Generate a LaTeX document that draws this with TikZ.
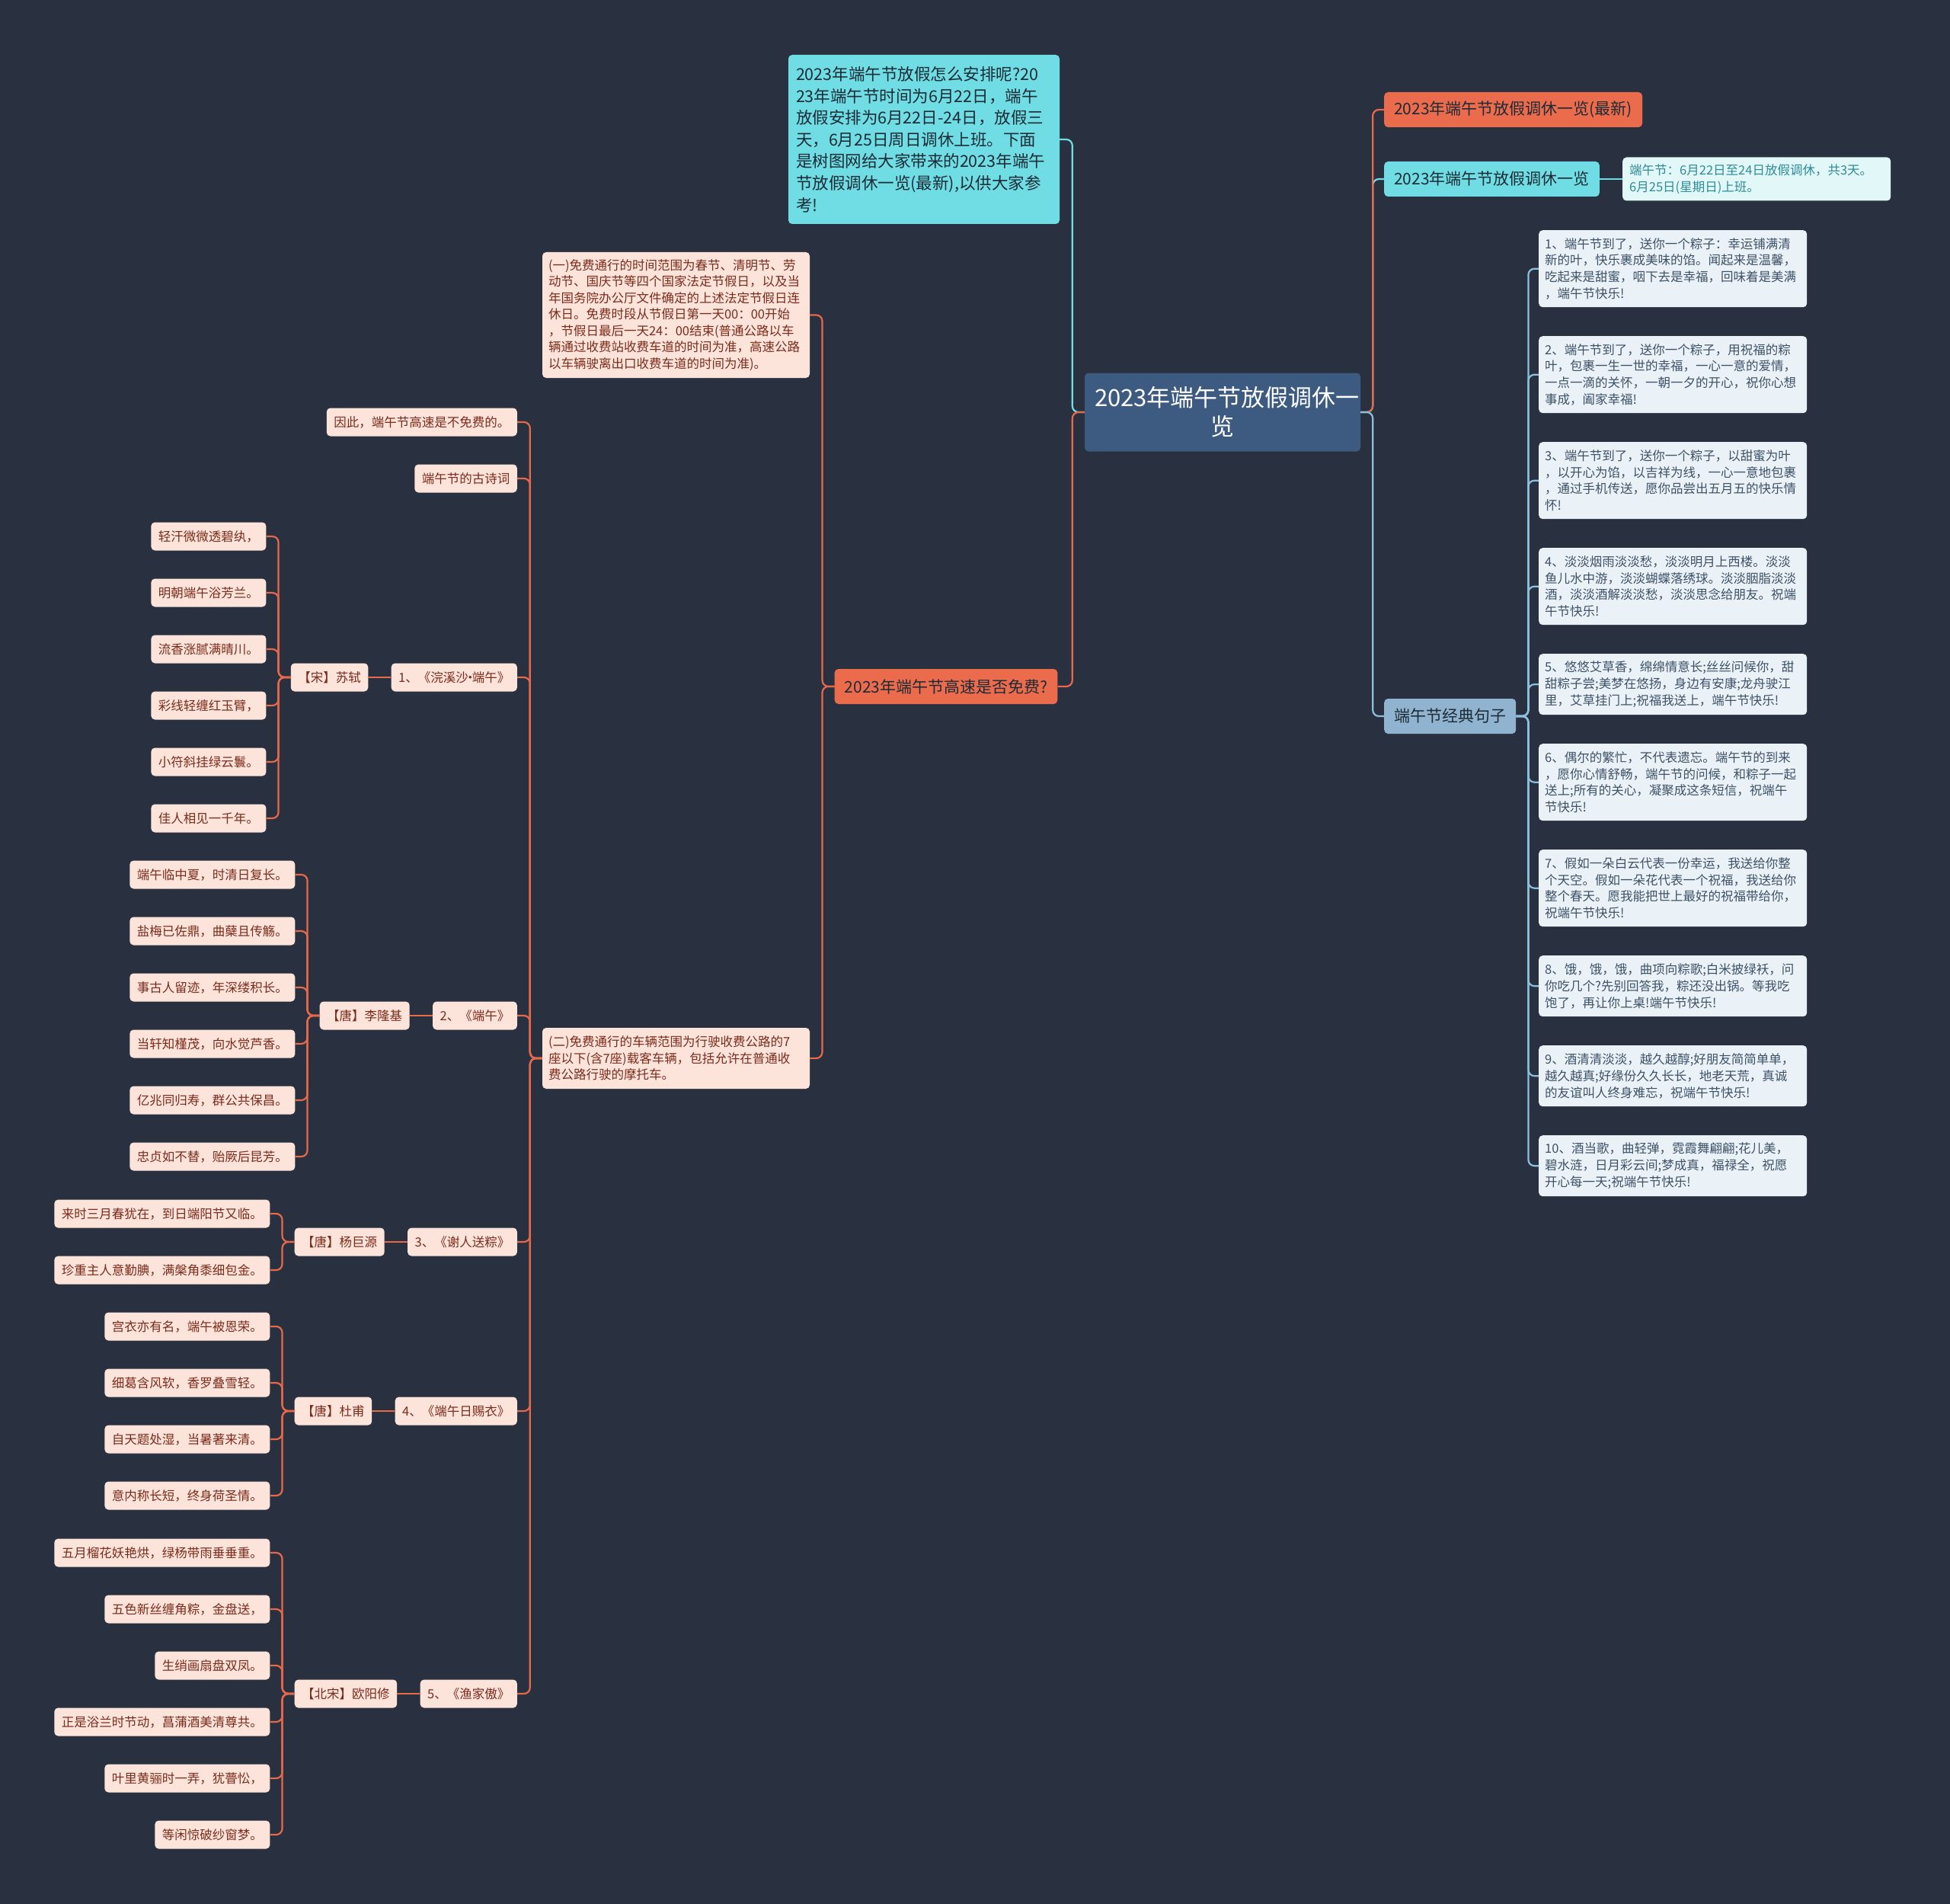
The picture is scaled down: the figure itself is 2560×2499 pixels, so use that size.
\documentclass[tikz,border=0pt]{standalone}
\usepackage{fontspec}
\setmainfont{Noto Sans CJK SC}
\usetikzlibrary{positioning,calc}

\definecolor{bgnavy}{HTML}{293140}
\definecolor{rootblue}{HTML}{3D5A80}
\definecolor{orangefill}{HTML}{EB6B4D}
\definecolor{orangeline}{HTML}{E8694A}
\definecolor{cyanfill}{HTML}{6FDDE3}
\definecolor{bluefill}{HTML}{90B4CF}
\definecolor{blueline}{HTML}{8CC0DC}
\definecolor{pinkfill}{HTML}{FCE4DA}
\definecolor{pinktext}{HTML}{7B2B1C}
\definecolor{sentfill}{HTML}{EAF2F8}
\definecolor{senttext}{HTML}{3E5166}
\definecolor{notefill}{HTML}{E2F7F8}
\definecolor{notetext}{HTML}{2E8C97}
\definecolor{darktext}{HTML}{1D2B36}

\tikzset{
    box/.style={rounded corners=5pt, inner xsep=9pt, inner ysep=4pt},
    rootbox/.style={box, fill=rootblue, text=white, align=center,
        font=\fontsize{31}{38}\selectfont, text width=336pt, inner xsep=13pt,
        minimum height=103pt},
    intro/.style={box, fill=cyanfill, text=darktext, align=left,
        font=\fontsize{21.5}{28.6}\selectfont, text width=336pt, inner xsep=10pt,
        minimum height=222pt},
    branch/.style={box, text=darktext, font=\fontsize{21}{25}\selectfont,
        inner xsep=13pt, minimum height=46pt},
    orangebox/.style={branch, fill=orangefill},
    cyanbox/.style={branch, fill=cyanfill},
    bluebox/.style={branch, fill=bluefill},
    notebox/.style={box, fill=notefill, text=notetext, align=left,
        font=\fontsize{16.5}{21.5}\selectfont, text width=334pt, minimum height=57pt},
    pinkpara/.style={box, fill=pinkfill, text=pinktext, align=left,
        font=\fontsize{16.5}{21.5}\selectfont, text width=335pt, inner xsep=8pt},
    tip/.style={box, fill=pinkfill, text=pinktext,
        font=\fontsize{16.5}{20}\selectfont, inner xsep=9.5pt, minimum height=37pt},
    sentence/.style={box, fill=sentfill, text=senttext, align=left,
        font=\fontsize{16.5}{21.8}\selectfont, text width=336pt, inner xsep=8pt},
    four/.style={sentence, minimum height=101pt},
    three/.style={sentence, minimum height=80pt},
    link/.style={line width=2.2pt, rounded corners=8pt},
    redlink/.style={link, draw=orangeline},
    cyanlink/.style={link, draw=cyanfill},
    bluelink/.style={link, draw=blueline},
    elbowl/.style={rounded corners=8pt, to path={-- ++(-16,0) |- (\tikztotarget)}},
    elbowr/.style={rounded corners=8pt, to path={-- ++(16,0) |- (\tikztotarget)}}
}
\newcommand{\middot}{\makebox[0.3em]{·}}

\begin{document}
\begin{tikzpicture}[x=1pt, y=-1pt]
\fill[bgnavy] (0,0) rectangle (2560,2499);
\useasboundingbox (0,0) rectangle (2560,2499);

% centre
\node[rootbox] (root) at (1605,541) {2023年端午节放假调休一\\览};

% left side
\node[intro] (intro) at (1213,183) {2023年端午节放假怎么安排呢?20\\23年端午节时间为6月22日，端午\\放假安排为6月22日-24日，放假三\\天，6月25日周日调休上班。下面\\是树图网给大家带来的2023年端午\\节放假调休一览(最新),以供大家参\\考!};
\node[orangebox] (free) at (1242,901) {2023年端午节高速是否免费?};
\node[pinkpara, minimum height=165pt] (one) at (887.5,413.5) {(一)免费通行的时间范围为春节、清明节、劳\\动节、国庆节等四个国家法定节假日，以及当\\年国务院办公厅文件确定的上述法定节假日连\\休日。免费时段从节假日第一天00：00开始\\，节假日最后一天24：00结束(普通公路以车\\辆通过收费站收费车道的时间为准，高速公路\\以车辆驶离出口收费车道的时间为准)。};
\node[pinkpara, minimum height=80pt] (two) at (887.5,1389) {(二)免费通行的车辆范围为行驶收费公路的7\\座以下(含7座)载客车辆，包括允许在普通收\\费公路行驶的摩托车。};

\node[tip, anchor=east] (t0) at (679,554) {因此，端午节高速是不免费的。};
\node[tip, anchor=east] (t1) at (679,628) {端午节的古诗词};
\node[tip, anchor=east] (t2) at (679,889) {1、《浣溪沙\middot 端午》};
\node[tip, anchor=east] (t3) at (679,1333) {2、《端午》};
\node[tip, anchor=east] (t4) at (679,1630) {3、《谢人送粽》};
\node[tip, anchor=east] (t5) at (679,1852) {4、《端午日赐衣》};
\node[tip, anchor=east] (t6) at (679,2223) {5、《渔家傲》};

\node[tip, left=30pt of t2] (a1) {【宋】苏轼};
\node[tip, left=30pt of t3] (a2) {【唐】李隆基};
\node[tip, left=30pt of t4] (a3) {【唐】杨巨源};
\node[tip, left=30pt of t5] (a4) {【唐】杜甫};
\node[tip, left=30pt of t6] (a5) {【北宋】欧阳修};

% poem lines
\node[tip, anchor=east] (p1a) at ($(a1.west)+(-32,-185)$) {轻汗微微透碧纨，};
\node[tip, anchor=east] (p1b) at ($(a1.west)+(-32,-111)$) {明朝端午浴芳兰。};
\node[tip, anchor=east] (p1c) at ($(a1.west)+(-32,-37)$) {流香涨腻满晴川。};
\node[tip, anchor=east] (p1d) at ($(a1.west)+(-32,37)$) {彩线轻缠红玉臂，};
\node[tip, anchor=east] (p1e) at ($(a1.west)+(-32,111)$) {小符斜挂绿云鬟。};
\node[tip, anchor=east] (p1f) at ($(a1.west)+(-32,185)$) {佳人相见一千年。};

\node[tip, anchor=east] (p2a) at ($(a2.west)+(-32,-185)$) {端午临中夏，时清日复长。};
\node[tip, anchor=east] (p2b) at ($(a2.west)+(-32,-111)$) {盐梅已佐鼎，曲蘖且传觞。};
\node[tip, anchor=east] (p2c) at ($(a2.west)+(-32,-37)$) {事古人留迹，年深缕积长。};
\node[tip, anchor=east] (p2d) at ($(a2.west)+(-32,37)$) {当轩知槿茂，向水觉芦香。};
\node[tip, anchor=east] (p2e) at ($(a2.west)+(-32,111)$) {亿兆同归寿，群公共保昌。};
\node[tip, anchor=east] (p2f) at ($(a2.west)+(-32,185)$) {忠贞如不替，贻厥后昆芳。};

\node[tip, anchor=east] (p3a) at ($(a3.west)+(-32,-37)$) {来时三月春犹在，到日端阳节又临。};
\node[tip, anchor=east] (p3b) at ($(a3.west)+(-32,37)$) {珍重主人意勤腆，满槃角黍细包金。};

\node[tip, anchor=east] (p4a) at ($(a4.west)+(-32,-111)$) {宫衣亦有名，端午被恩荣。};
\node[tip, anchor=east] (p4b) at ($(a4.west)+(-32,-37)$) {细葛含风软，香罗叠雪轻。};
\node[tip, anchor=east] (p4c) at ($(a4.west)+(-32,37)$) {自天题处湿，当暑著来清。};
\node[tip, anchor=east] (p4d) at ($(a4.west)+(-32,111)$) {意内称长短，终身荷圣情。};

\node[tip, anchor=east] (p5a) at ($(a5.west)+(-32,-185)$) {五月榴花妖艳烘，绿杨带雨垂垂重。};
\node[tip, anchor=east] (p5b) at ($(a5.west)+(-32,-111)$) {五色新丝缠角粽，金盘送，};
\node[tip, anchor=east] (p5c) at ($(a5.west)+(-32,-37)$) {生绡画扇盘双凤。};
\node[tip, anchor=east] (p5d) at ($(a5.west)+(-32,37)$) {正是浴兰时节动，菖蒲酒美清尊共。};
\node[tip, anchor=east] (p5e) at ($(a5.west)+(-32,111)$) {叶里黄骊时一弄，犹瞢忪，};
\node[tip, anchor=east] (p5f) at ($(a5.west)+(-32,185)$) {等闲惊破纱窗梦。};

% right side
\node[orangebox, anchor=west] (latest) at (1817,144) {2023年端午节放假调休一览(最新)};
\node[cyanbox, anchor=west] (list) at (1817,235) {2023年端午节放假调休一览};
\node[notebox, right=30pt of list] (note) {端午节：6月22日至24日放假调休，共3天。\\6月25日(星期日)上班。};
\node[bluebox, anchor=west] (wish) at (1817,940) {端午节经典句子};

\node[four, anchor=north west] (s1) at (2020,302) {1、端午节到了，送你一个粽子：幸运铺满清\\新的叶，快乐裹成美味的馅。闻起来是温馨，\\吃起来是甜蜜，咽下去是幸福，回味着是美满\\，端午节快乐!};
\node[four, below=37.6pt of s1] (s2) {2、端午节到了，送你一个粽子，用祝福的粽\\叶，包裹一生一世的幸福，一心一意的爱情，\\一点一滴的关怀，一朝一夕的开心，祝你心想\\事成，阖家幸福!};
\node[four, below=37.6pt of s2] (s3) {3、端午节到了，送你一个粽子，以甜蜜为叶\\，以开心为馅，以吉祥为线，一心一意地包裹\\，通过手机传送，愿你品尝出五月五的快乐情\\怀!};
\node[four, below=37.6pt of s3] (s4) {4、淡淡烟雨淡淡愁，淡淡明月上西楼。淡淡\\鱼儿水中游，淡淡蝴蝶落绣球。淡淡胭脂淡淡\\酒，淡淡酒解淡淡愁，淡淡思念给朋友。祝端\\午节快乐!};
\node[three, below=37.6pt of s4] (s5) {5、悠悠艾草香，绵绵情意长;丝丝问候你，甜\\甜粽子尝;美梦在悠扬，身边有安康;龙舟驶江\\里，艾草挂门上;祝福我送上，端午节快乐!};
\node[four, below=37.6pt of s5] (s6) {6、偶尔的繁忙，不代表遗忘。端午节的到来\\，愿你心情舒畅，端午节的问候，和粽子一起\\送上;所有的关心，凝聚成这条短信，祝端午\\节快乐!};
\node[four, below=37.6pt of s6] (s7) {7、假如一朵白云代表一份幸运，我送给你整\\个天空。假如一朵花代表一个祝福，我送给你\\整个春天。愿我能把世上最好的祝福带给你，\\祝端午节快乐!};
\node[three, below=37.6pt of s7] (s8) {8、饿，饿，饿，曲项向粽歌;白米披绿袄，问\\你吃几个?先别回答我，粽还没出锅。等我吃\\饱了，再让你上桌!端午节快乐!};
\node[three, below=37.6pt of s8] (s9) {9、酒清清淡淡，越久越醇;好朋友简简单单，\\越久越真;好缘份久久长长，地老天荒，真诚\\的友谊叫人终身难忘，祝端午节快乐!};
\node[three, below=37.6pt of s9] (s10) {10、酒当歌，曲轻弹，霓霞舞翩翩;花儿美，\\碧水涟，日月彩云间;梦成真，福禄全，祝愿\\开心每一天;祝端午节快乐!};

% connectors
\draw[cyanlink]
    (root.west) edge[elbowl] (intro.east)
    (root.east) edge[elbowr] (list.west)
    (list.east) edge (note.west);
\draw[redlink]
    (root.west) edge[elbowl] (free.east)
    (root.east) edge[elbowr] (latest.west)
    (free.west) edge[elbowl] (one.east)
    (free.west) edge[elbowl] (two.east)
    (two.west) edge[elbowl] (t0.east)
    (two.west) edge[elbowl] (t1.east)
    (two.west) edge[elbowl] (t2.east)
    (two.west) edge[elbowl] (t3.east)
    (two.west) edge[elbowl] (t4.east)
    (two.west) edge[elbowl] (t5.east)
    (two.west) edge[elbowl] (t6.east)
    (t2.west) edge (a1.east)
    (t3.west) edge (a2.east)
    (t4.west) edge (a3.east)
    (t5.west) edge (a4.east)
    (t6.west) edge (a5.east)
    (a1.west) edge[elbowl] (p1a.east)
    (a1.west) edge[elbowl] (p1b.east)
    (a1.west) edge[elbowl] (p1c.east)
    (a1.west) edge[elbowl] (p1d.east)
    (a1.west) edge[elbowl] (p1e.east)
    (a1.west) edge[elbowl] (p1f.east)
    (a2.west) edge[elbowl] (p2a.east)
    (a2.west) edge[elbowl] (p2b.east)
    (a2.west) edge[elbowl] (p2c.east)
    (a2.west) edge[elbowl] (p2d.east)
    (a2.west) edge[elbowl] (p2e.east)
    (a2.west) edge[elbowl] (p2f.east)
    (a3.west) edge[elbowl] (p3a.east)
    (a3.west) edge[elbowl] (p3b.east)
    (a4.west) edge[elbowl] (p4a.east)
    (a4.west) edge[elbowl] (p4b.east)
    (a4.west) edge[elbowl] (p4c.east)
    (a4.west) edge[elbowl] (p4d.east)
    (a5.west) edge[elbowl] (p5a.east)
    (a5.west) edge[elbowl] (p5b.east)
    (a5.west) edge[elbowl] (p5c.east)
    (a5.west) edge[elbowl] (p5d.east)
    (a5.west) edge[elbowl] (p5e.east)
    (a5.west) edge[elbowl] (p5f.east);
\draw[bluelink]
    (root.east) edge[elbowr] (wish.west)
    (wish.east) edge[elbowr] (s1.west)
    (wish.east) edge[elbowr] (s2.west)
    (wish.east) edge[elbowr] (s3.west)
    (wish.east) edge[elbowr] (s4.west)
    (wish.east) edge[elbowr] (s5.west)
    (wish.east) edge[elbowr] (s6.west)
    (wish.east) edge[elbowr] (s7.west)
    (wish.east) edge[elbowr] (s8.west)
    (wish.east) edge[elbowr] (s9.west)
    (wish.east) edge[elbowr] (s10.west);
\end{tikzpicture}
\end{document}
